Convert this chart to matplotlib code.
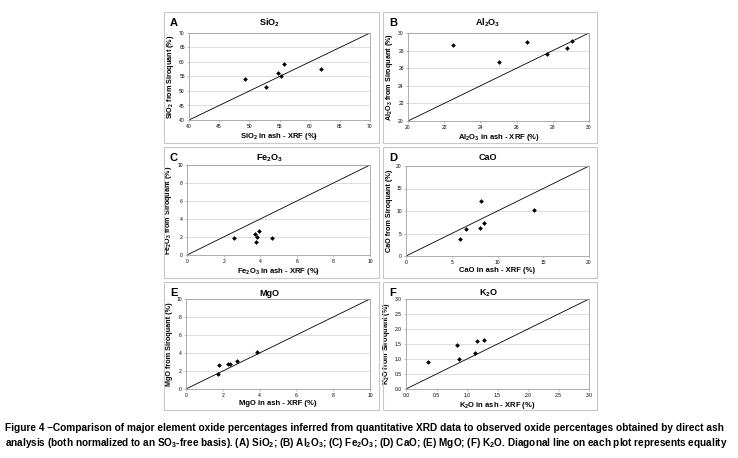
import numpy as np
import matplotlib
matplotlib.use("Agg")
import matplotlib.pyplot as plt
from matplotlib.patches import Rectangle

plt.rcParams['font.family'] = ['Liberation Sans', 'DejaVu Sans']
plt.rcParams['mathtext.fontset'] = 'custom'
plt.rcParams['mathtext.rm'] = 'Liberation Sans'
plt.rcParams['mathtext.bf'] = 'Liberation Sans:bold'
plt.rcParams['mathtext.default'] = 'bf'

# data: (XRF value, Siroquant value)
sio2_x = [49.3, 52.8, 54.7, 55.2, 55.8, 61.8]
sio2_y = [54.0, 51.3, 56.2, 55.2, 59.4, 57.6]
al2o3_x = [22.46, 25.0, 26.6, 27.67, 28.77, 29.08]
al2o3_y = [28.65, 26.67, 28.95, 27.6, 28.24, 29.1]
fe2o3_x = [2.58, 3.69, 3.95, 3.82, 3.75, 4.65]
fe2o3_y = [1.94, 2.31, 2.72, 1.98, 1.42, 1.9]
cao_x = [5.93, 6.58, 8.04, 8.2, 8.5, 14.04]
cao_y = [3.87, 6.02, 6.32, 12.27, 7.29, 10.33]
mgo_x = [1.74, 1.81, 2.26, 2.37, 2.77, 3.85]
mgo_y = [1.67, 2.67, 2.74, 2.74, 3.11, 4.15]
k2o_x = [0.366, 0.84, 0.87, 1.13, 1.17, 1.28]
k2o_y = [0.9, 1.46, 0.99, 1.2, 1.61, 1.63]

letters = ['A', 'B', 'C', 'D', 'E', 'F']
oxides = ['SiO$_2$', 'Al$_2$O$_3$', 'Fe$_2$O$_3$', 'CaO', 'MgO', 'K$_2$O']
ranges = [(40, 70, 5), (20, 30, 2), (0, 10, 2), (0, 20, 5), (0, 10, 2), (0, 3, 0.5)]
xs = [sio2_x, al2o3_x, fe2o3_x, cao_x, mgo_x, k2o_x]
ys = [sio2_y, al2o3_y, fe2o3_y, cao_y, mgo_y, k2o_y]

W, H = 738, 458
fig = plt.figure(figsize=(W / 100, H / 100), dpi=100)

# panel boxes (pixels): left, top, right, bottom
cols = [(164, 379), (383, 597)]
rows = [(12, 143), (147, 278), (282, 410)]
# axes boxes (pixels)
axbox = [(189, 33, 370, 120), (408, 33, 589, 121),
         (187, 165, 370, 255), (406, 166, 589, 256),
         (186, 299, 370, 389), (406, 299, 589, 389)]

for i in range(6):
    c = cols[i % 2]
    r = rows[i // 2]
    fig.patches.append(Rectangle((c[0] / W, 1 - r[1] / H), (c[1] - c[0]) / W,
                                 (r[1] - r[0]) / H, transform=fig.transFigure,
                                 fill=False, edgecolor='#c8c8c8', lw=0.8))
    l, t, rr, b = axbox[i]
    ax = fig.add_axes([l / W, 1 - b / H, (rr - l) / W, (b - t) / H])
    lo, hi, step = ranges[i]
    ax.plot([lo, hi], [lo, hi], color='black', lw=0.6)
    ax.plot(xs[i], ys[i], 'D', color='black', markersize=2.4, markeredgewidth=0)
    ax.set_xlim(lo, hi)
    ax.set_ylim(lo, hi)
    ticks = np.arange(lo, hi + step / 2, step)
    ax.set_xticks(ticks)
    ax.set_yticks(ticks)
    if step < 1:
        lbls = ['%.1f' % v for v in ticks]
    else:
        lbls = ['%d' % v for v in ticks]
    ax.set_xticklabels(lbls)
    ax.set_yticklabels(lbls)
    ax.tick_params(labelsize=3.6, length=1.5, width=0.4, color='#909090', pad=1.5)
    ax.grid(axis='y', color='#d0d0d0', lw=0.5)
    ax.set_axisbelow(True)
    for s in ax.spines.values():
        s.set_color('#a0a0a0')
        s.set_linewidth(0.6)
    name = oxides[i]
    ax.set_xlabel(name + ' in ash - XRF (%)', fontsize=5.5, fontweight='bold', labelpad=1.5)
    ax.set_ylabel(name + ' from Siroquant (%)', fontsize=5.2, fontweight='bold', labelpad=2)
    cx = (c[0] + c[1]) / 2 - 2
    fig.text(cx / W, 1 - (r[0] + 11) / H, name, fontsize=6.5, fontweight='bold',
             ha='center', va='center')
    fig.text((c[0] + 6) / W, 1 - (r[0] + 11) / H, letters[i], fontsize=8,
             fontweight='bold', ha='left', va='center')

cap1 = ('Figure 4 \u2013Comparison of major element oxide percentages inferred from quantitative XRD data '
        'to observed oxide percentages obtained by direct ash')
cap2 = ('analysis (both normalized to an SO$_3$-free basis). (A) SiO$_2$; (B) Al$_2$O$_3$; (C) Fe$_2$O$_3$; '
        '(D) CaO; (E) MgO; (F) K$_2$O. Diagonal line on each plot represents equality')
t1 = fig.text(5 / W, 1 - 428 / H, cap1, fontsize=7.6, fontweight='bold',
              ha='left', va='center')
t2 = fig.text(5 / W, 1 - 443 / H, cap2, fontsize=7.6, fontweight='bold',
              ha='left', va='center')

# shrink the caption lines so they span the figure width like the reference
renderer = fig.canvas.get_renderer()
for t, target in [(t1, 726), (t2, 720)]:
    for _ in range(3):
        w = t.get_window_extent(renderer).width
        t.set_fontsize(t.get_fontsize() * target / w)

fig.savefig('out.png', dpi=100)
